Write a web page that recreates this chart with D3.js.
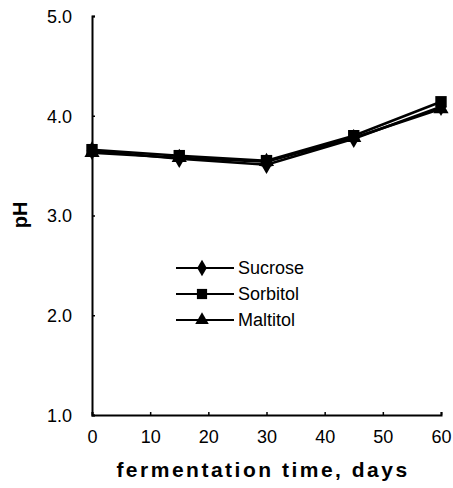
<!DOCTYPE html>
<html>
<head>
<meta charset="utf-8">
<script src="https://cdn.jsdelivr.net/npm/d3@7"></script>
<style>
  body { margin: 0; background: #fff; }
  text { font-family: Arial, "Liberation Sans", sans-serif; fill: #000; }
</style>
</head>
<body>
<div id="chart"></div>
<script>
var days = [0, 15, 30, 45, 60];
var sucrose = [3.65, 3.57, 3.51, 3.77, 4.09];
var sorbitol = [3.66, 3.60, 3.55, 3.80, 4.14];
var maltitol = [3.63, 3.58, 3.54, 3.78, 4.07];
var seriesNames = ["Sucrose", "Sorbitol", "Maltitol"];
var xTicks = [0, 10, 20, 30, 40, 50, 60];
var yTicks = [1.0, 2.0, 3.0, 4.0, 5.0];

var width = 453, height = 488;
var margin = { left: 92, right: 12, top: 16, bottom: 73 };

function translate(x, y){ return "translate(" + x + "," + y + ")"; }

var ww = width - margin.left - margin.right,
    hh = height - margin.top - margin.bottom;

var xScale = d3.scaleLinear().domain([0, 60]).range([0, ww]);
var yScale = d3.scaleLinear().domain([1, 5]).range([hh, 0]);

var svg = d3.select("#chart").append("svg")
    .attr("width", width).attr("height", height);
var g = svg.append("g").attr("transform", translate(margin.left, margin.top));

// axes
var xAxis = d3.axisBottom(xScale).tickValues(xTicks).tickSize(-3).tickPadding(15)
    .tickFormat(d3.format("d"));
var yAxis = d3.axisLeft(yScale).tickValues(yTicks).tickSize(-3).tickPadding(20)
    .tickFormat(d3.format(".1f"));

var gx = g.append("g").attr("transform", translate(0, hh)).call(xAxis);
var gy = g.append("g").call(yAxis);
[gx, gy].forEach(function(a){
    a.select(".domain").attr("stroke", "#000").attr("stroke-width", 2);
    a.selectAll(".tick line").attr("stroke", "#000").attr("stroke-width", 1.5);
    a.selectAll(".tick text").style("font-size", "18px").attr("fill", "#000");
});
gy.selectAll(".tick text").attr("dy", "0.35em");

// lines
var line = d3.line()
    .x(function(d, i){ return xScale(days[i]); })
    .y(function(d){ return yScale(d); });

var series = [
    { name: "Sucrose", values: sucrose, shape: d3.symbolDiamond, size: 100 },
    { name: "Sorbitol", values: sorbitol, shape: d3.symbolSquare, size: 130 },
    { name: "Maltitol", values: maltitol, shape: d3.symbolTriangle, size: 100 }
];

series.forEach(function(s){
    g.append("path").datum(s.values)
        .attr("d", line)
        .attr("fill", "none")
        .attr("stroke", "#000")
        .attr("stroke-width", 2.5);
});
series.forEach(function(s){
    g.selectAll(null).data(s.values).enter().append("path")
        .attr("d", d3.symbol().type(s.shape).size(s.size))
        .attr("transform", function(d, i){ return translate(xScale(days[i]), yScale(d)); })
        .attr("fill", "#000");
});

// legend
var legend = svg.append("g").attr("transform", translate(176, 268));
series.forEach(function(s, i){
    var row = legend.append("g").attr("transform", translate(0, i * 26));
    row.append("line").attr("x1", 0).attr("x2", 58).attr("y1", 0).attr("y2", 0)
        .attr("stroke", "#000").attr("stroke-width", 2);
    row.append("path").attr("d", d3.symbol().type(s.shape).size(s.size * 0.8))
        .attr("transform", translate(26, 0)).attr("fill", "#000");
    row.append("text").attr("x", 62).attr("y", 0).attr("dy", "0.35em")
        .style("font-size", "18px").text(seriesNames[i]);
});

// titles
svg.append("text")
    .attr("x", 263).attr("y", 477)
    .attr("text-anchor", "middle")
    .style("font-size", "21px").style("font-weight", "bold").style("letter-spacing", "2.5px")
    .text("fermentation time, days");

svg.append("text")
    .attr("transform", "translate(27,215) rotate(-90)")
    .attr("text-anchor", "middle")
    .style("font-size", "20px").style("font-weight", "bold")
    .text("pH");
</script>
</body>
</html>
